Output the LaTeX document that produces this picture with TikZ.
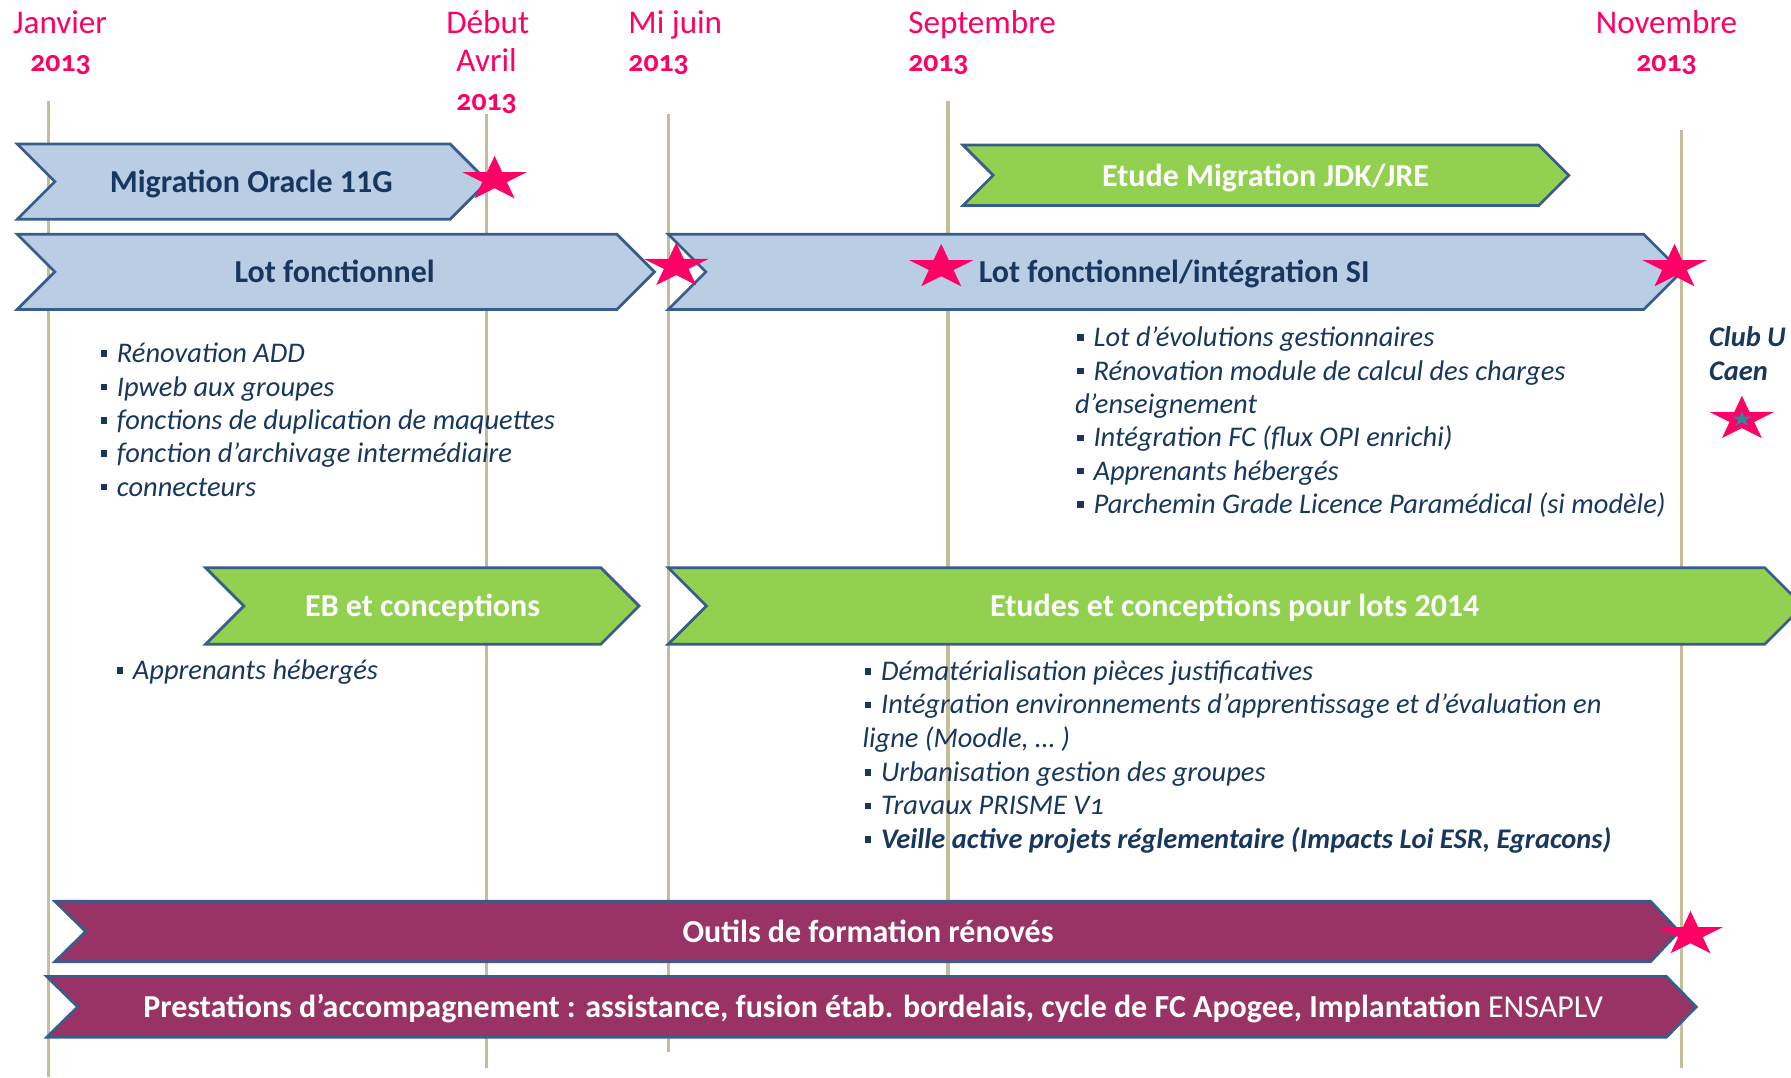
\documentclass[tikz,border=0pt]{standalone}
\usepackage{fontspec}
\setmainfont{Carlito}
\newfontfamily\oldnum[Numbers=OldStyle]{Carlito}
\usetikzlibrary{shapes.geometric}
\definecolor{pinkc}{HTML}{FF0066}
\definecolor{navyc}{HTML}{17375E}
\definecolor{lbluec}{HTML}{B9CDE5}
\definecolor{lgreenc}{HTML}{92D050}
\definecolor{purpc}{HTML}{993366}
\definecolor{edgec}{HTML}{385D8A}
\definecolor{tanc}{HTML}{C4BD97}
\definecolor{tealc}{HTML}{31859C}
\newcommand{\sqb}{\rule[0.2em]{0.23em}{0.23em}\hspace{0.34em}}
\begin{document}
\begin{tikzpicture}[x=1pt,y=-1pt,
  vline/.style={draw=tanc,line width=3pt},
  barblue/.style={fill=lbluec,draw=edgec,line width=2.4pt,line join=miter},
  bargreen/.style={fill=lgreenc,draw=edgec,line width=2.4pt,line join=miter},
  barpurp/.style={fill=purpc,draw=edgec,line width=2.4pt,line join=miter},
  bartitle/.style={anchor=base,inner sep=0,font=\fontsize{28}{32}\selectfont\bfseries},
  darktitle/.style={bartitle,text=navyc},
  lighttitle/.style={bartitle,text=white},
  listtxt/.style={anchor=base west,inner sep=0,text=navyc,font=\fontsize{24.9}{29}\selectfont\itshape},
  listbold/.style={listtxt,font=\fontsize{24.9}{29}\selectfont\bfseries\itshape},
  monthtxt/.style={inner sep=0,text=pinkc,font=\fontsize{29}{32}\selectfont},
  yeartxt/.style={inner sep=0,text=pinkc,font=\fontsize{26}{30}\selectfont\oldnum\bfseries},
  pstar/.style={star,star points=5,star point ratio=2.618,fill=pinkc,draw=none,inner sep=0,minimum size=41pt,xscale=1.45},
  istar/.style={star,star points=5,star point ratio=2.618,fill=tealc,draw=none,inner sep=0,minimum size=14pt,xscale=1.3}
]
\useasboundingbox (0,0) rectangle (1568,943);
\clip (0,0) rectangle (1568,943);

% vertical time lines
\draw[vline] (42.5,88) -- (42.5,943);
\draw[vline] (426,100) -- (426,935);
\draw[vline] (585.5,100) -- (585.5,921);
\draw[vline] (830,88) -- (830,860);
\draw[vline] (1472,114) -- (1472,935);

% month labels
\node[monthtxt,anchor=base] (mjan) at (52.6,29) {Janvier};
\node[yeartxt,anchor=base] (yjan) at (53,63) {2013};
\node[monthtxt,anchor=base] (mdeb) at (427,29) {Début};
\node[monthtxt,anchor=base] (mavr) at (426,63) {Avril};
\node[yeartxt,anchor=base] (yavr) at (426,96.5) {2013};
\node[monthtxt,anchor=base west] (mjui) at (550,29) {Mi juin};
\node[yeartxt,anchor=base west] (yjui) at (550,63) {2013};
\node[monthtxt,anchor=base west] (msep) at (795,29) {Septembre};
\node[yeartxt,anchor=base west] (ysep) at (795,63) {2013};
\node[monthtxt,anchor=base] (mnov) at (1459,29) {Novembre};
\node[yeartxt,anchor=base] (ynov) at (1459,63) {2013};

% bars
\draw[barblue] (15,126) -- (394,126) -- (427,159) -- (394,192) -- (15,192) -- (48,159) -- cycle;
\node[darktitle] (bora) at (220,168.5) {Migration Oracle 11G};

\draw[bargreen] (843,127) -- (1347,127) -- (1373.5,153.5) -- (1347,180) -- (843,180) -- (869.5,153.5) -- cycle;
\node[lighttitle] (bjdk) at (1108,163) {Etude Migration JDK/JRE};

\draw[barblue] (15,205) -- (540,205) -- (573,238) -- (540,271) -- (15,271) -- (48,238) -- cycle;
\node[darktitle] (blot) at (293,247.5) {Lot fonctionnel};

\draw[barblue] (585,205) -- (1439,205) -- (1472,238) -- (1439,271) -- (585,271) -- (618,238) -- cycle;
\node[darktitle] (blsi) at (1028,247.5) {Lot fonctionnel/intégration SI};

\draw[bargreen] (180,497) -- (526,497) -- (559.5,530.5) -- (526,564) -- (180,564) -- (213.5,530.5) -- cycle;
\node[lighttitle] (beb) at (370,540) {EB et conceptions};

\draw[bargreen] (585,497) -- (1545,497) -- (1578.5,530.5) -- (1545,564) -- (585,564) -- (618.5,530.5) -- cycle;
\node[lighttitle] (bet) at (1081,540) {Etudes et conceptions pour lots 2014};

\draw[barpurp] (48,789) -- (1445,789) -- (1470,815.5) -- (1445,842) -- (48,842) -- (75,815.5) -- cycle;
\node[lighttitle] (bout) at (760,825) {Outils de formation rénovés};

\draw[barpurp] (41,855) -- (1459,855) -- (1485,881.5) -- (1459,908) -- (41,908) -- (68,881.5) -- cycle;
\node[lighttitle] (bpre) at (764.5,891) {Prestations d’accompagnement : assistance, fusion étab. bordelais, cycle de FC Apogee, Implantation {\mdseries ENSAPLV}};

% left list
\node[listtxt] (a1) at (88,317.5) {\sqb Rénovation ADD};
\node[listtxt] (a2) at (88,346.7) {\sqb Ipweb aux groupes};
\node[listtxt] (a3) at (88,375.9) {\sqb fonctions de duplication de maquettes};
\node[listtxt] (a4) at (88,405.1) {\sqb fonction d’archivage intermédiaire};
\node[listtxt] (a5) at (88,434.3) {\sqb connecteurs};

% right list
\node[listtxt] (b1) at (943,303.5) {\sqb Lot d’évolutions gestionnaires};
\node[listtxt] (b2) at (943,332.7) {\sqb Rénovation module de calcul des charges};
\node[listtxt] (b3) at (941,361.9) {d’enseignement};
\node[listtxt] (b4) at (943,391.1) {\sqb Intégration FC (flux OPI enrichi)};
\node[listtxt] (b5) at (943,420.3) {\sqb Apprenants hébergés};
\node[listtxt] (b6) at (943,449.5) {\sqb Parchemin Grade Licence Paramédical (si modèle)};

% club
\node[listbold] (c1) at (1496,303.5) {Club U};
\node[listbold] (c2) at (1496,332.7) {Caen};

% EB list
\node[listtxt] (d1) at (102,595) {\sqb Apprenants hébergés};

% bottom list
\node[listtxt] (e1) at (757,595.5) {\sqb Dématérialisation pièces justificatives};
\node[listtxt] (e2) at (757,625) {\sqb Intégration environnements d’apprentissage et d’évaluation en};
\node[listtxt] (e3) at (755,654.5) {ligne (Moodle, … )};
\node[listtxt] (e4) at (757,684) {\sqb Urbanisation gestion des groupes};
\node[listtxt] (e5) at (757,713.5) {\sqb Travaux PRISME V{\oldnum 1}};
\node[listbold] (e6) at (757,743) {\sqb Veille active projets réglementaire (Impacts Loi ESR, Egracons)};

% stars
\node[pstar] (s1) at (433,157) {};
\node[pstar] (s2) at (592,233) {};
\node[pstar] (s3) at (824,234) {};
\node[pstar] (s4) at (1466,234) {};
\node[pstar] (s5) at (1480,818) {};
\node[pstar] (s6) at (1525,367) {};
\node[istar] (s7) at (1525,367) {};
\end{tikzpicture}
\end{document}
